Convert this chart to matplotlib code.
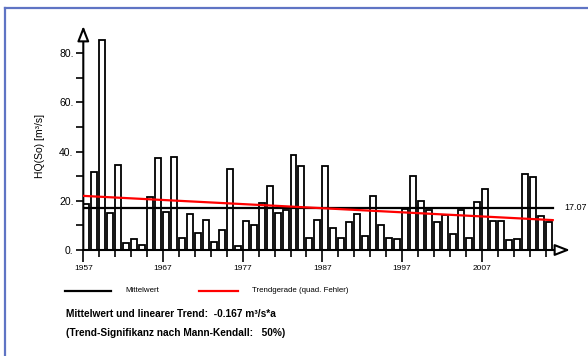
import numpy as np
import matplotlib.pyplot as plt
from matplotlib.lines import Line2D

plt.rcParams['font.family'] = ['Liberation Sans', 'DejaVu Sans']

years = np.arange(1957, 2016)
hq_so = [18.7, 31.7, 85.1, 14.9, 34.5, 3.0, 4.6, 2.0, 21.7, 37.5,
         15.6, 37.7, 5.0, 14.6, 7.0, 12.2, 3.1, 8.1, 32.8, 1.8,
         11.9, 10.0, 19.0, 26.0, 14.9, 16.4, 38.4, 34.3, 4.8, 12.2,
         34.2, 8.8, 4.7, 11.5, 14.5, 5.7, 21.9, 10.2, 4.8, 4.3,
         16.7, 30.0, 20.1, 16.3, 11.3, 14.4, 6.4, 16.1, 4.7, 19.4,
         24.8, 11.9, 11.8, 4.1, 4.3, 30.7, 29.5, 13.8, 11.5]
mean_value = 17.07
trend_slope = -0.167
signif = 50
y_ticks = [0, 20, 40, 60, 80]
x_ticks = [1957, 1967, 1977, 1987, 1997, 2007]

fig = plt.figure(figsize=(5.88, 3.56), dpi=100)

# blue frame at top/left
fig.add_artist(Line2D([5 / 588, 5 / 588], [0, 1 - 7.5 / 356], color='#5f74c4', lw=1.6))
fig.add_artist(Line2D([5 / 588, 1], [1 - 7.5 / 356, 1 - 7.5 / 356], color='#5f74c4', lw=1.6))

px_year = 7.97
px_unit = 2.4625
ax_left, ax_right = 83.3, 570
ax_bottom, ax_top = 250, 26
axes = fig.add_axes([ax_left / 588, 1 - ax_bottom / 356,
                     (ax_right - ax_left) / 588, (ax_bottom - ax_top) / 356])
axes.set_xlim(1957, 1957 + (ax_right - ax_left) / px_year)
axes.set_ylim(0, (ax_bottom - ax_top) / px_unit)
axes.patch.set_alpha(0)
for s in axes.spines.values():
    s.set_visible(False)

axes.bar(years, hq_so, width=0.75, align='edge', color='white',
         edgecolor='black', lw=1.3, zorder=2)

x_end = years[-1] + 0.9
x_line = np.array([years[0], x_end])
axes.plot(x_line, [mean_value, mean_value], color='black', lw=1.6, zorder=3)
x_mid = years.mean() + 0.4
axes.plot(x_line, mean_value + trend_slope * (x_line - x_mid), color='red', lw=1.6, zorder=4)
axes.text(2017.3, mean_value, '%.2f' % mean_value, fontsize=6.5, va='center', ha='left',
          clip_on=False)

# axes with open arrow heads
arrow = dict(arrowstyle='-|>,head_length=0.9,head_width=0.35',
             fc='white', ec='black', lw=1.5, shrinkA=0, shrinkB=0)
axes.annotate('', xy=(1.0, 0), xytext=(0, 0), xycoords='axes fraction', arrowprops=arrow)
axes.annotate('', xy=(0, 1.0), xytext=(0, 0), xycoords='axes fraction', arrowprops=arrow)

axes.set_yticks(y_ticks)
axes.set_yticklabels(['%d.' % v for v in y_ticks], fontsize=7.5)
axes.set_yticks([10, 30, 50, 70], minor=True)
axes.tick_params(axis='y', which='both', direction='out', length=5, width=1.2, pad=2)

axes.set_xticks(x_ticks)
axes.set_xticklabels([str(v) for v in x_ticks], fontsize=6)
axes.set_xticks(np.arange(1959, 2016, 2), minor=True)
axes.tick_params(axis='x', which='major', direction='out', length=8.5, width=1.2, pad=2)
axes.tick_params(axis='x', which='minor', direction='out', length=5, width=1.2)

fig.text(40 / 588, 1 - 146 / 356, 'HQ(So) [m³/s]', rotation=90, fontsize=7.5,
         ha='center', va='center')

# legend below
fig.add_artist(Line2D([65 / 588, 111 / 588], [1 - 291 / 356] * 2, color='black', lw=1.6))
fig.text(125 / 588, 1 - 291 / 356, 'Mittelwert', fontsize=5.7, va='center')
fig.add_artist(Line2D([199 / 588, 238 / 588], [1 - 291 / 356] * 2, color='red', lw=1.6))
fig.text(252 / 588, 1 - 291 / 356, 'Trendgerade (quad. Fehler)', fontsize=5.7, va='center')

fig.text(66 / 588, 1 - 314 / 356,
         'Mittelwert und linearer Trend:  %.3f m³/s*a' % trend_slope,
         fontsize=7.3, fontweight='bold', va='center')
fig.text(66 / 588, 1 - 333 / 356,
         '(Trend-Signifikanz nach Mann-Kendall:   %d%%)' % signif,
         fontsize=7.3, fontweight='bold', va='center')

fig.savefig('out.png', dpi=100)
